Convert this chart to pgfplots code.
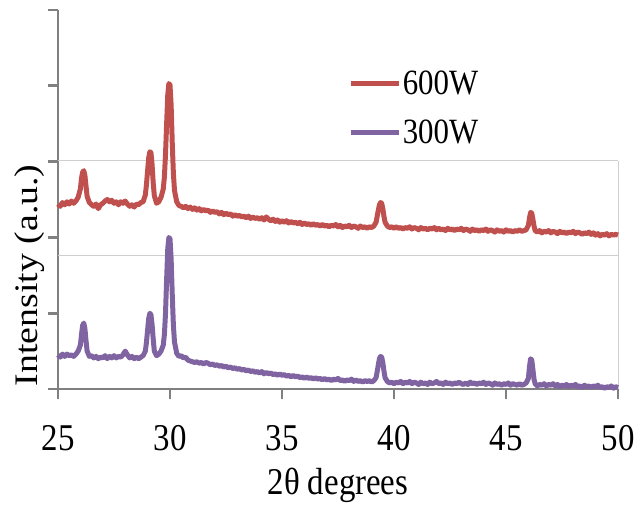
\documentclass[border=0pt]{standalone}
\usepackage{pgfplots}
\pgfplotsset{compat=1.18}
\usepackage{pgfplotstable}
\usepackage{fontspec}
\setmainfont{Liberation Serif}
\definecolor{xred}{HTML}{C0504D}
\definecolor{xpurple}{HTML}{8064A2}
\definecolor{axgray}{HTML}{808080}
\definecolor{boxgray}{HTML}{CFCFCF}
\newcommand{\vs}[1]{\scalebox{1}[1.15]{#1}}

\pgfplotstableread{
x y
25.0 2.44
25.1 2.41
25.2 2.46
25.3 2.43
25.4 2.47
25.5 2.44
25.6 2.48
25.7 2.45
25.8 2.48
25.9 2.53
26.0 2.64
26.05 2.78
26.1 2.86
26.15 2.88
26.2 2.82
26.25 2.68
26.3 2.54
26.4 2.46
26.5 2.43
26.6 2.41
26.7 2.44
26.8 2.38
26.9 2.43
27.0 2.45
27.1 2.48
27.2 2.50
27.3 2.47
27.4 2.49
27.5 2.45
27.6 2.47
27.7 2.43
27.8 2.47
27.9 2.45
28.0 2.48
28.1 2.44
28.2 2.41
28.3 2.43
28.4 2.40
28.5 2.44
28.6 2.43
28.7 2.46
28.8 2.47
28.9 2.56
28.95 2.70
29.0 2.88
29.05 3.05
29.1 3.13
29.15 3.12
29.2 2.96
29.25 2.72
29.3 2.55
29.4 2.45
29.5 2.47
29.6 2.53
29.7 2.64
29.75 2.80
29.8 3.10
29.85 3.50
29.9 3.88
29.95 4.03
30.0 4.01
30.05 3.75
30.1 3.25
30.15 2.85
30.2 2.62
30.3 2.47
30.4 2.42
30.5 2.41
30.6 2.39
30.7 2.41
30.8 2.38
30.9 2.40
31.0 2.37
31.1 2.39
31.2 2.36
31.3 2.38
31.4 2.35
31.5 2.37
31.6 2.35
31.7 2.36
31.8 2.33
31.9 2.35
32.0 2.33
32.1 2.34
32.2 2.31
32.3 2.33
32.4 2.30
32.5 2.32
32.6 2.30
32.7 2.31
32.8 2.28
32.9 2.30
33.0 2.28
33.1 2.29
33.2 2.27
33.3 2.28
33.4 2.26
33.5 2.28
33.6 2.25
33.7 2.27
33.8 2.25
33.9 2.26
34.0 2.24
34.1 2.26
34.2 2.23
34.3 2.27
34.4 2.24
34.5 2.22
34.6 2.24
34.7 2.21
34.8 2.23
34.9 2.20
35.0 2.22
35.1 2.20
35.2 2.22
35.3 2.19
35.4 2.21
35.5 2.19
35.6 2.20
35.7 2.18
35.8 2.20
35.9 2.17
36.0 2.19
36.1 2.17
36.2 2.18
36.3 2.16
36.4 2.18
36.5 2.16
36.6 2.17
36.7 2.15
36.8 2.17
36.9 2.15
37.0 2.16
37.1 2.14
37.2 2.16
37.3 2.15
37.4 2.17
37.5 2.14
37.6 2.16
37.7 2.13
37.8 2.15
37.9 2.14
38.0 2.16
38.1 2.13
38.2 2.15
38.3 2.14
38.4 2.12
38.5 2.15
38.6 2.13
38.7 2.14
38.8 2.12
38.9 2.14
39.0 2.13
39.1 2.15
39.2 2.20
39.25 2.28
39.3 2.36
39.35 2.43
39.4 2.46
39.45 2.45
39.5 2.38
39.55 2.28
39.6 2.20
39.7 2.15
39.8 2.13
39.9 2.14
40.0 2.12
40.1 2.14
40.2 2.12
40.3 2.13
40.4 2.11
40.5 2.13
40.6 2.12
40.7 2.14
40.8 2.11
40.9 2.13
41.0 2.12
41.1 2.10
41.2 2.13
41.3 2.11
41.4 2.12
41.5 2.10
41.6 2.12
41.7 2.11
41.8 2.13
41.9 2.10
42.0 2.12
42.1 2.10
42.2 2.11
42.3 2.09
42.4 2.12
42.5 2.10
42.6 2.11
42.7 2.09
42.8 2.11
42.9 2.10
43.0 2.12
43.1 2.09
43.2 2.11
43.3 2.10
43.4 2.08
43.5 2.11
43.6 2.09
43.7 2.10
43.8 2.08
43.9 2.10
44.0 2.09
44.1 2.11
44.2 2.08
44.3 2.10
44.4 2.09
44.5 2.07
44.6 2.10
44.7 2.08
44.8 2.09
44.9 2.07
45.0 2.10
45.1 2.08
45.2 2.09
45.3 2.07
45.4 2.09
45.5 2.08
45.6 2.10
45.7 2.08
45.8 2.09
45.9 2.10
46.0 2.16
46.05 2.26
46.1 2.33
46.15 2.32
46.2 2.24
46.25 2.15
46.3 2.09
46.4 2.07
46.5 2.09
46.6 2.06
46.7 2.08
46.8 2.07
46.9 2.09
47.0 2.06
47.1 2.08
47.2 2.07
47.3 2.05
47.4 2.08
47.5 2.06
47.6 2.07
47.7 2.05
47.8 2.07
47.9 2.06
48.0 2.08
48.1 2.05
48.2 2.07
48.3 2.06
48.4 2.04
48.5 2.06
48.6 2.05
48.7 2.07
48.8 2.04
48.9 2.06
49.0 2.03
49.1 2.05
49.2 2.02
49.3 2.04
49.4 2.03
49.5 2.05
49.6 2.02
49.7 2.04
49.8 2.03
49.9 2.04
50.0 2.03
}\sixhundred

\pgfplotstableread{
x y
25.0 0.45
25.1 0.42
25.2 0.46
25.3 0.43
25.4 0.46
25.5 0.44
25.6 0.45
25.7 0.43
25.8 0.46
25.9 0.50
26.0 0.58
26.05 0.72
26.1 0.84
26.15 0.87
26.2 0.80
26.25 0.64
26.3 0.50
26.4 0.43
26.5 0.44
26.6 0.41
26.7 0.43
26.8 0.40
26.9 0.42
27.0 0.41
27.1 0.44
27.2 0.40
27.3 0.43
27.4 0.41
27.5 0.44
27.6 0.41
27.7 0.43
27.8 0.42
27.9 0.45
28.0 0.50
28.1 0.45
28.2 0.41
28.3 0.43
28.4 0.40
28.5 0.42
28.6 0.40
28.7 0.42
28.8 0.44
28.9 0.50
28.95 0.62
29.0 0.78
29.05 0.93
29.1 1.00
29.15 0.98
29.2 0.85
29.25 0.66
29.3 0.50
29.4 0.44
29.5 0.46
29.6 0.50
29.7 0.58
29.75 0.72
29.8 1.00
29.85 1.45
29.9 1.85
29.95 2.00
30.0 1.98
30.05 1.72
30.1 1.25
30.15 0.85
30.2 0.62
30.3 0.47
30.4 0.43
30.5 0.44
30.6 0.41
30.7 0.42
30.8 0.38
30.9 0.37
31.0 0.36
31.1 0.35
31.2 0.36
31.3 0.34
31.4 0.35
31.5 0.33
31.6 0.35
31.7 0.34
31.8 0.32
31.9 0.33
32.0 0.31
32.1 0.32
32.2 0.30
32.3 0.31
32.4 0.29
32.5 0.30
32.6 0.28
32.7 0.29
32.8 0.27
32.9 0.28
33.0 0.26
33.1 0.27
33.2 0.25
33.3 0.26
33.4 0.24
33.5 0.25
33.6 0.23
33.7 0.24
33.8 0.22
33.9 0.23
34.0 0.21
34.1 0.23
34.2 0.20
34.3 0.22
34.4 0.20
34.5 0.21
34.6 0.19
34.7 0.20
34.8 0.18
34.9 0.20
35.0 0.18
35.1 0.19
35.2 0.17
35.3 0.18
35.4 0.16
35.5 0.18
35.6 0.16
35.7 0.17
35.8 0.15
35.9 0.16
36.0 0.14
36.1 0.16
36.2 0.14
36.3 0.15
36.4 0.13
36.5 0.15
36.6 0.13
36.7 0.14
36.8 0.12
36.9 0.14
37.0 0.12
37.1 0.13
37.2 0.11
37.3 0.13
37.4 0.12
37.5 0.14
37.6 0.11
37.7 0.12
37.8 0.10
37.9 0.12
38.0 0.11
38.1 0.13
38.2 0.10
38.3 0.12
38.4 0.10
38.5 0.11
38.6 0.09
38.7 0.11
38.8 0.10
38.9 0.11
39.0 0.09
39.1 0.11
39.2 0.15
39.25 0.23
39.3 0.32
39.35 0.40
39.4 0.43
39.45 0.42
39.5 0.35
39.55 0.24
39.6 0.15
39.7 0.10
39.8 0.08
39.9 0.09
40.0 0.07
40.1 0.09
40.2 0.08
40.3 0.10
40.4 0.07
40.5 0.09
40.6 0.08
40.7 0.10
40.8 0.07
40.9 0.09
41.0 0.08
41.1 0.06
41.2 0.09
41.3 0.07
41.4 0.08
41.5 0.06
41.6 0.09
41.7 0.07
41.8 0.08
41.9 0.10
42.0 0.07
42.1 0.08
42.2 0.06
42.3 0.09
42.4 0.07
42.5 0.08
42.6 0.06
42.7 0.08
42.8 0.07
42.9 0.09
43.0 0.07
43.1 0.06
43.2 0.08
43.3 0.06
43.4 0.09
43.5 0.07
43.6 0.08
43.7 0.06
43.8 0.08
43.9 0.07
44.0 0.09
44.1 0.06
44.2 0.08
44.3 0.07
44.4 0.05
44.5 0.08
44.6 0.06
44.7 0.07
44.8 0.05
44.9 0.07
45.0 0.06
45.1 0.08
45.2 0.05
45.3 0.07
45.4 0.06
45.5 0.05
45.6 0.07
45.7 0.05
45.8 0.06
45.9 0.08
46.0 0.14
46.05 0.30
46.1 0.40
46.15 0.38
46.2 0.26
46.25 0.13
46.3 0.07
46.4 0.04
46.5 0.06
46.6 0.05
46.7 0.07
46.8 0.04
46.9 0.06
47.0 0.05
47.1 0.07
47.2 0.04
47.3 0.06
47.4 0.03
47.5 0.05
47.6 0.04
47.7 0.06
47.8 0.03
47.9 0.05
48.0 0.04
48.1 0.06
48.2 0.03
48.3 0.04
48.4 0.02
48.5 0.05
48.6 0.03
48.7 0.04
48.8 0.02
48.9 0.04
49.0 0.03
49.1 0.05
49.2 0.02
49.3 0.03
49.4 0.01
49.5 0.03
49.6 0.02
49.7 0.04
49.8 0.01
49.9 0.03
50.0 0.02
}\threehundred

\begin{document}
\begin{tikzpicture}
\useasboundingbox (0,0) rectangle (637bp,506bp);
\begin{axis}[
  at={(58bp,117bp)}, anchor=south west,
  scale only axis, width=560bp, height=379bp,
  xmin=25, xmax=50, ymin=0, ymax=5,
  xtick={25,30,35,40,45,50},
  xticklabels={\vs{25},\vs{30},\vs{35},\vs{40},\vs{45},\vs{50}},
  ytick={0,1,2,3,4,5},
  yticklabels={},
  axis x line*=bottom, axis y line*=left,
  axis line style={axgray, line width=2.8bp, -},
  tick style={axgray, line width=2.8bp},
  tick align=outside,
  major tick length=10bp,
  xticklabel style={font=\fontsize{33}{38}\selectfont, anchor=center, yshift=-39bp},
  xlabel={\vs{2θ degrees}},
  xlabel style={font=\fontsize{33}{38}\selectfont, at={(axis description cs:0.5,0)}, anchor=center, yshift=-96bp},
  ylabel={\scalebox{1.15}[1]{Intensity (a.u.)}},
  ylabel style={font=\fontsize{33}{38}\selectfont, at={(axis description cs:-0.05,0.30)}, anchor=center},
  clip=false,
  legend style={at={(axis description cs:0.518,0.845)}, anchor=north west, draw=none, fill=none,
    font=\fontsize{31}{36}\selectfont, row sep=20bp, inner sep=0pt},
  legend cell align=left,
  legend image code/.code={\draw[#1, line width=4.5bp] (0bp,0bp) -- (48bp,0bp);},
]
\draw[boxgray, line width=0.8bp] (axis cs:25,3.01) -- (axis cs:50,3.01);
\draw[boxgray, line width=0.8bp] (axis cs:25,1.76) -- (axis cs:50,1.76);
\draw[boxgray, line width=0.8bp] (axis cs:50,0) -- (axis cs:50,3.01);
\addplot[xred, line width=5bp, line join=round, no markers] table {\sixhundred};
\addlegendentry{\vs{600W}}
\addplot[xpurple, line width=5bp, line join=round, no markers] table {\threehundred};
\addlegendentry{\vs{300W}}
\end{axis}
\end{tikzpicture}
\end{document}
